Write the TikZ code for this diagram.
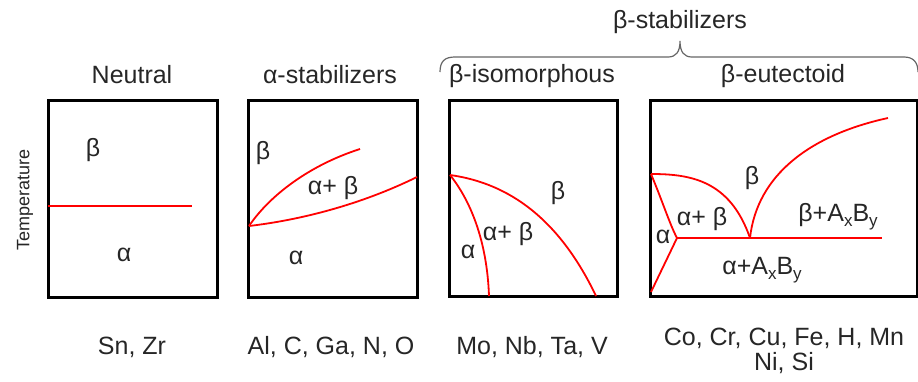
\documentclass[tikz,border=0pt]{standalone}
\usepackage{fontspec}
\setmainfont{Liberation Sans}
\newcommand{\mysub}[1]{\raisebox{-0.35ex}{\fontsize{17}{17}\selectfont #1}}
\begin{document}
\begin{tikzpicture}[x=1pt,y=-1pt,
  every node/.style={font=\fontsize{25}{29}\selectfont, text=black!85, inner sep=0pt},
  frame/.style={draw=black, line width=3pt},
  phase/.style={draw=red, line width=1.8pt},
  bracestyle/.style={draw=black!60, line width=1.2pt}]
\useasboundingbox (0,0) rectangle (918,381);
% frames
\draw[frame] (48,100) rectangle (217,297);
\draw[frame] (248,100) rectangle (417,297);
\draw[frame] (449,100) rectangle (617,296);
\draw[frame] (650,100) rectangle (917,296);
% titles
\node (t1) at (132,75) {Neutral};
\node (t2) at (330,75) {α-stabilizers};
\node (t3) at (532,76) {β-isomorphous};
\node (t4) at (783,76) {β-eutectoid};
\node (t5) at (680,22) {β-stabilizers};
% brace
\draw[bracestyle] (440,72) .. controls (440,61) and (445,57) .. (455,57) -- (668,57)
  .. controls (676,57) and (680,52) .. (680,41) .. controls (680,52) and (684,57) .. (692,57)
  -- (904,57) .. controls (913,57) and (918,62) .. (918,72);
% y label
\node[rotate=90, font=\fontsize{18}{21}\selectfont] (temp) at (25,200) {Temperature};
% panel 1
\draw[phase] (48,206) -- (192,206);
\node (b1) at (93,150) {β};
\node (a1) at (124,255) {α};
% panel 2
\draw[phase] (249,226) .. controls (300,220) and (360,205) .. (417,177);
\draw[phase] (249,226) .. controls (270,195) and (310,165) .. (360,149);
\node (b2) at (263,153) {β};
\node (ab2) at (333,188) {α+ β};
\node (a2) at (296,258) {α};
% panel 3
\draw[phase] (450,175) .. controls (470,200) and (487,240) .. (489,296);
\draw[phase] (450,175) .. controls (500,182) and (555,210) .. (596,296);
\node (b3) at (558,193) {β};
\node (ab3) at (508,234) {α+ β};
\node (a3) at (468,252) {α};
% panel 4
\coordinate (tl) at (651,174);
\coordinate (tp) at (677,238);
\coordinate (eu) at (750,238);
\draw[phase] (tl) .. controls (690,174) and (730,180) .. (eu);
\draw[phase] (tl) .. controls (662,200) and (670,225) .. (tp);
\draw[phase] (tp) -- (651,292);
\draw[phase] (tp) -- (882,238);
\draw[phase] (eu) .. controls (757,175) and (810,135) .. (888,118);
\node (b4) at (752,178) {β};
\node (ab4) at (702,219) {α+ β};
\node (a4) at (663,237) {α};
\node (bx4) at (838,217) {β+A\mysub{x}B\mysub{y}};
\node (ax4) at (762,270) {α+A\mysub{x}B\mysub{y}};
% elements
\node (e1) at (132,347) {Sn, Zr};
\node (e2) at (331,347) {Al, C, Ga, N, O};
\node (e3) at (532,347) {Mo, Nb, Ta, V};
\node (e4) at (784,338) {Co, Cr, Cu, Fe, H, Mn};
\node (e5) at (784,363) {Ni, Si};
\end{tikzpicture}
\end{document}
